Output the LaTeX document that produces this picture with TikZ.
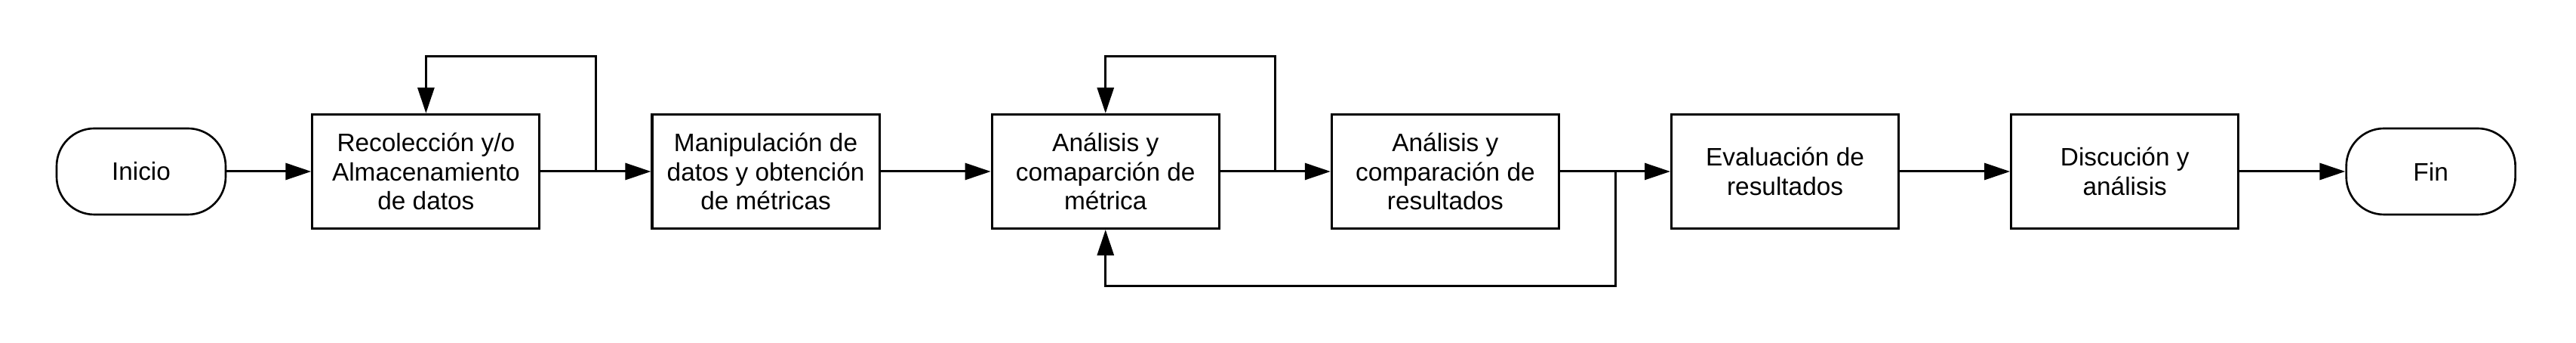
\documentclass[tikz,border=0pt]{standalone}
\usepackage{fontspec}
\setmainfont{Liberation Sans}
\usetikzlibrary{arrows.meta,positioning,calc}
\definecolor{procInk}{HTML}{000000}
\tikzset{
  every picture/.style={font=\fontsize{9.5}{11}\selectfont, text=procInk},
  proc box/.style={draw=procInk, line width=0.9pt, fill=white, align=center,
    minimum width=30.1mm, minimum height=15.1mm, inner sep=0pt},
  proc term/.style={draw=procInk, line width=0.75pt, rounded corners=5mm,
    fill=white, minimum width=22.4mm, minimum height=11.4mm, inner sep=0pt},
  proc arrow/.style={-{Triangle[length=3.4mm,width=2.2mm]},
    draw=procInk, line width=0.85pt}
}

\begin{document}
\begin{tikzpicture}[x=1cm,y=1cm,node distance=14.6mm]
  \useasboundingbox (0,0) rectangle (34.13,4.54);
  \node[proc term] (inicio) at (1.87,2.27) {Inicio};
  \node[proc box, right=11.2mm of inicio] (recoleccion) {Recolección y/o\\Almacenamiento\\de datos};
  \node[proc box, right=of recoleccion] (manipulacion) {Manipulación de\\datos y obtención\\de métricas};
  \node[proc box, right=of manipulacion] (metrica) {Análisis y\\comaparción de\\métrica};
  \node[proc box, right=of metrica] (resultados) {Análisis y\\comparación de\\resultados};
  \node[proc box, right=of resultados] (evaluacion) {Evaluación de\\resultados};
  \node[proc box, right=of evaluacion] (discusion) {Discución y\\análisis};
  \node[proc term, right=14mm of discusion] (fin) {Fin};

  \coordinate (split a) at ($(recoleccion.east)!0.5!(manipulacion.west)$);
  \coordinate (split b) at ($(metrica.east)!0.5!(resultados.west)$);
  \coordinate (split c) at ($(resultados.east)!0.5!(evaluacion.west)$);

  \draw[proc arrow] (inicio) -- (recoleccion);
  \draw[proc arrow] (recoleccion) -- (manipulacion);
  \draw[proc arrow] (manipulacion) -- (metrica);
  \draw[proc arrow] (metrica) -- (resultados);
  \draw[proc arrow] (resultados) -- (evaluacion);
  \draw[proc arrow] (evaluacion) -- (discusion);
  \draw[proc arrow] (discusion) -- (fin);

  \draw[proc arrow] (split a) -- ++(0,1.52) -| (recoleccion.north);
  \draw[proc arrow] (split b) -- ++(0,1.52) -| (metrica.north);
  \draw[proc arrow] (split c) -- ++(0,-1.52) -| (metrica.south);
\end{tikzpicture}
\end{document}
